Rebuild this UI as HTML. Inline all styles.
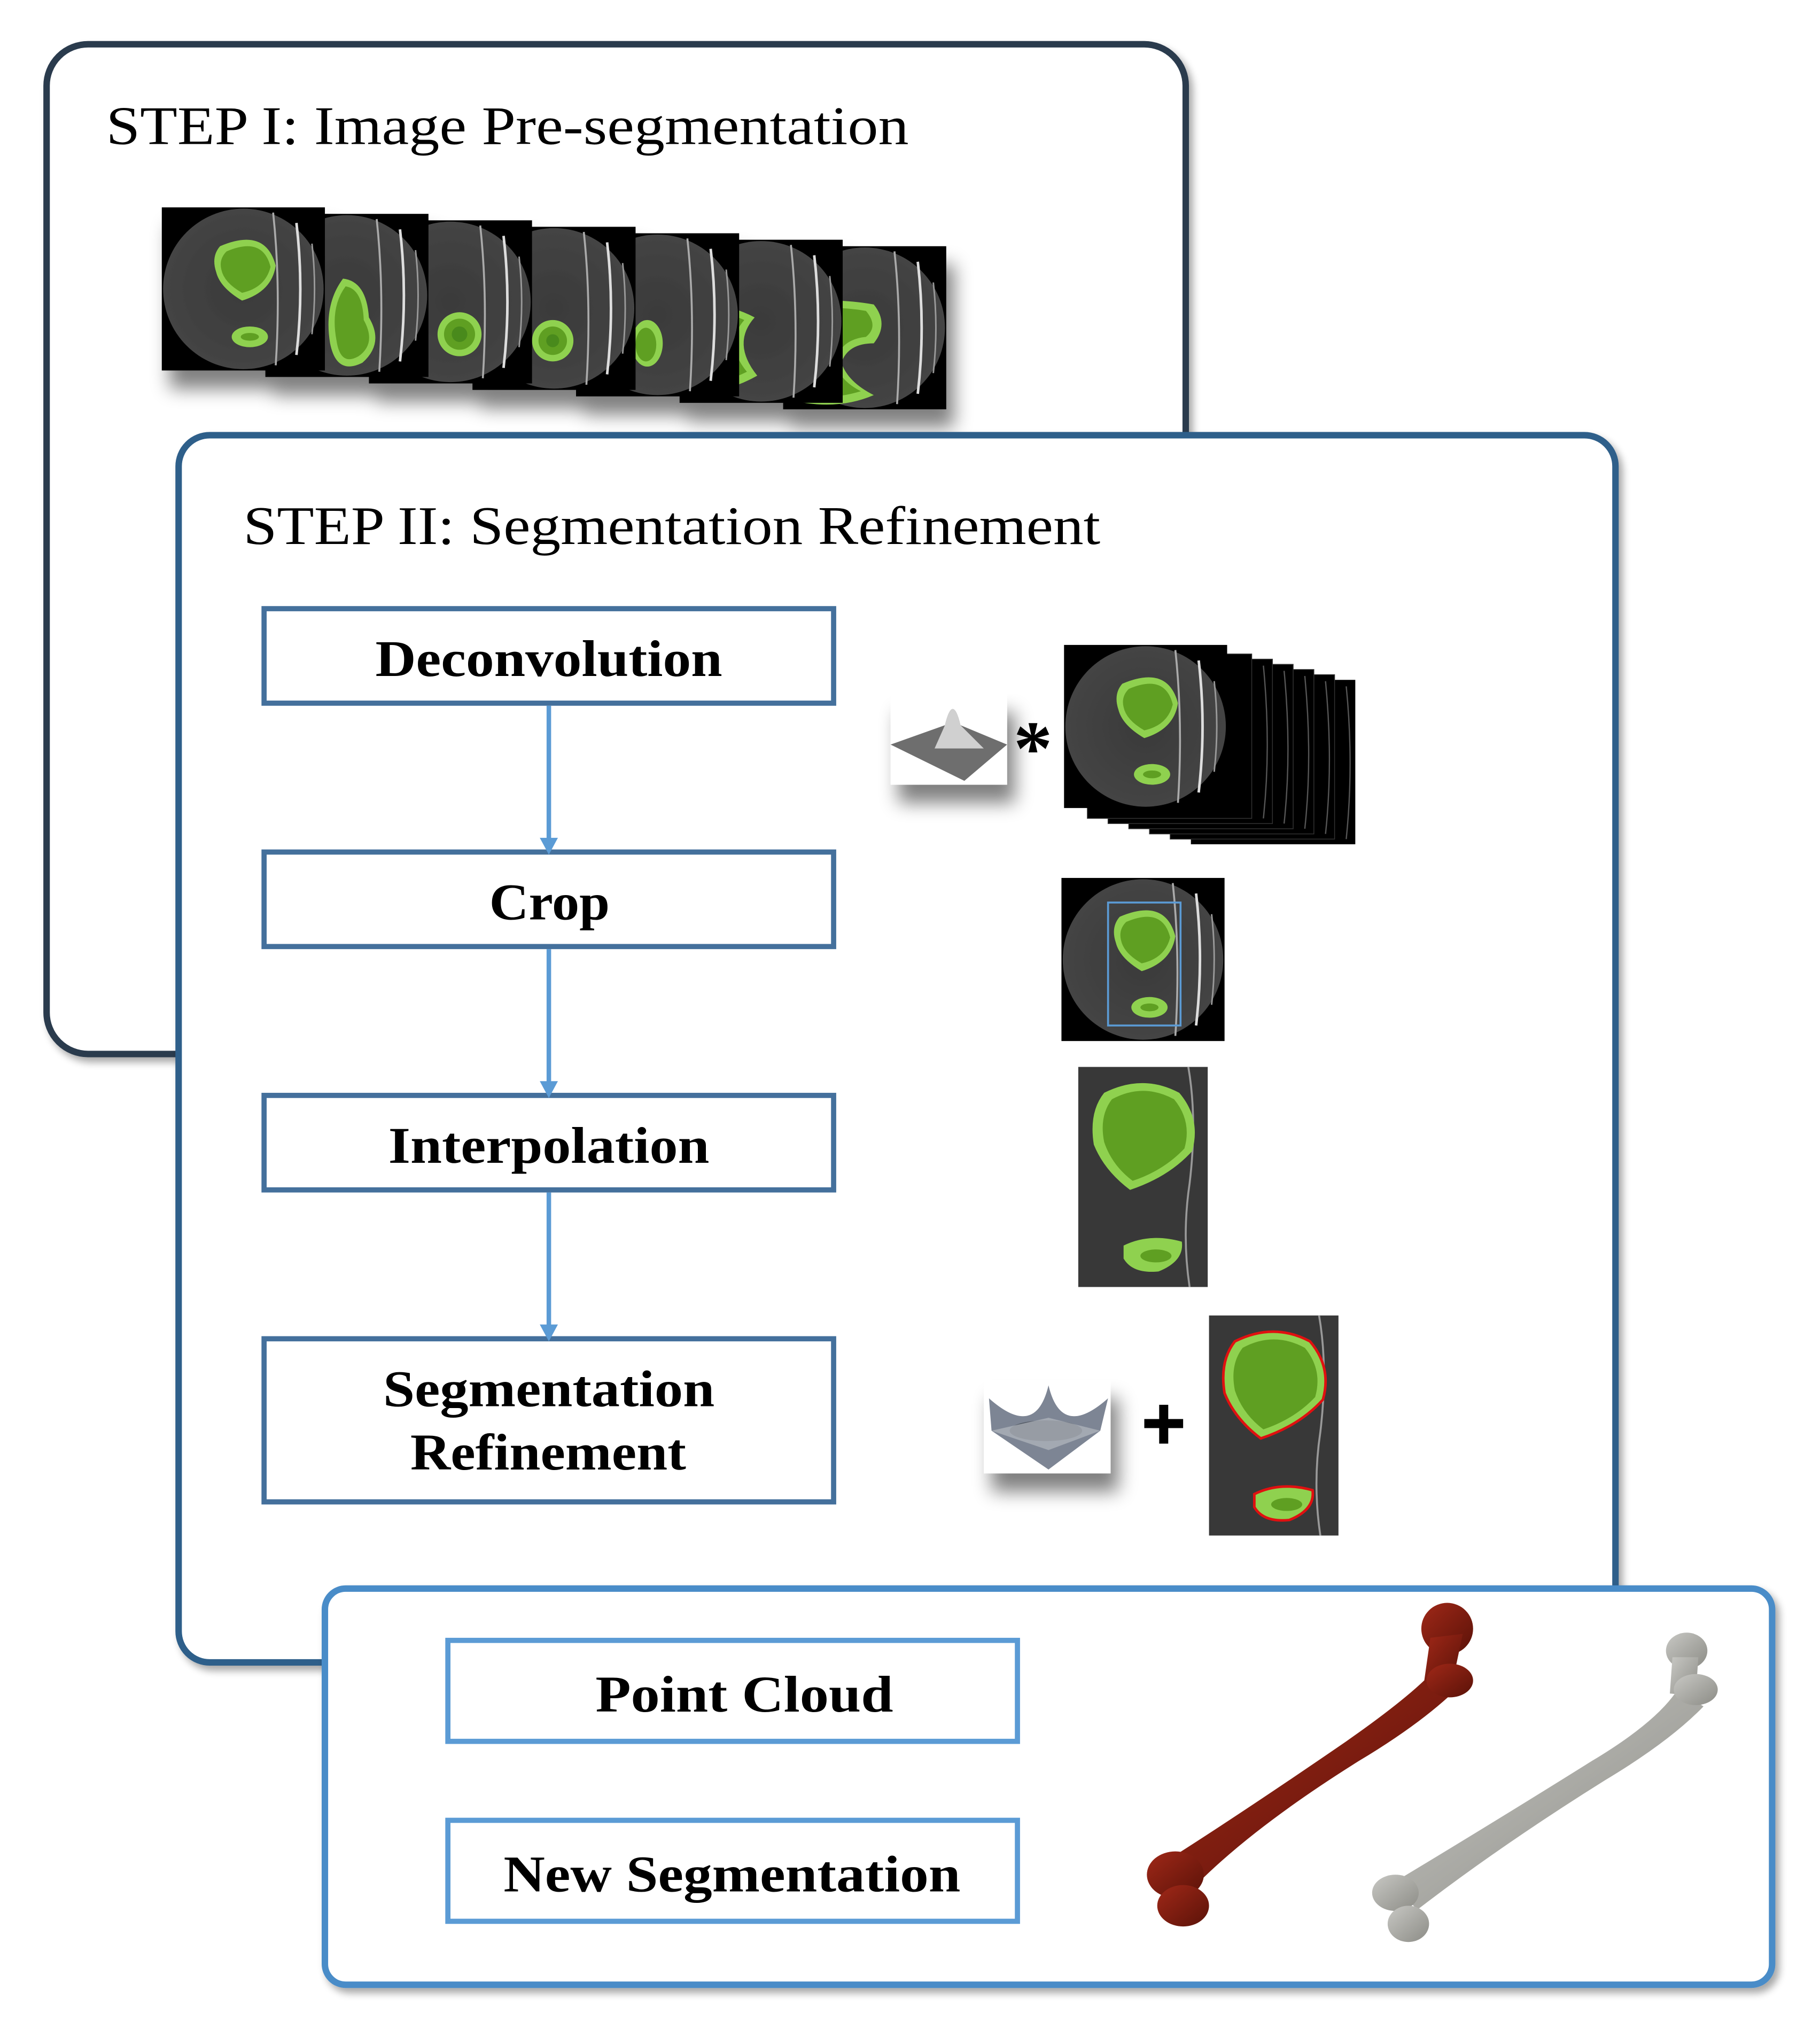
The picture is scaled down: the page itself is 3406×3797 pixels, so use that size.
<!DOCTYPE html>
<html><head><meta charset="utf-8">
<style>
html,body{margin:0;padding:0;background:#fff;}
svg{display:block;}
text{font-family:"Liberation Serif",serif;font-weight:bold;fill:#000;}
</style></head>
<body>
<svg width="3406" height="3797" viewBox="0 0 1406 1567" xmlns="http://www.w3.org/2000/svg">
<defs>
  <filter id="sh" x="-20%" y="-20%" width="150%" height="170%">
    <feGaussianBlur in="SourceAlpha" stdDeviation="7"/>
    <feOffset dx="6" dy="14"/>
    <feComponentTransfer><feFuncA type="linear" slope="0.5"/></feComponentTransfer>
    <feMerge><feMergeNode/><feMergeNode in="SourceGraphic"/></feMerge>
  </filter>
  <filter id="bsh" x="-5%" y="-5%" width="110%" height="110%">
    <feGaussianBlur in="SourceAlpha" stdDeviation="3"/>
    <feOffset dx="3" dy="4"/>
    <feComponentTransfer><feFuncA type="linear" slope="0.35"/></feComponentTransfer>
    <feMerge><feMergeNode/><feMergeNode in="SourceGraphic"/></feMerge>
  </filter>
  <radialGradient id="ctbg" cx="0.5" cy="0.5" r="0.5">
    <stop offset="0" stop-color="#3a3a3a"/><stop offset="1" stop-color="#444"/>
  </radialGradient>
  <linearGradient id="redb" x1="0" y1="0" x2="1" y2="1">
    <stop offset="0" stop-color="#a02818"/><stop offset="1" stop-color="#5a1208"/>
  </linearGradient>
  <linearGradient id="greyb" x1="0" y1="0" x2="1" y2="1">
    <stop offset="0" stop-color="#c8c8c4"/><stop offset="1" stop-color="#8c8c86"/>
  </linearGradient>
  <g id="ctbase">
    <rect x="0" y="0" width="126" height="126" fill="#000"/>
    <circle cx="63" cy="63" r="62" fill="url(#ctbg)"/>
    <path d="M86 4 Q92 60 88 122" stroke="#aaa" stroke-width="1.5" fill="none"/>
    <path d="M104 12 Q110 63 104 114" stroke="#ddd" stroke-width="2" fill="none"/>
    <path d="M116 28 Q120 63 116 98" stroke="#999" stroke-width="1.2" fill="none"/>
  </g>
</defs>

<!-- STEP I box -->
<rect x="36" y="34" width="880" height="780" rx="32" fill="#fff" stroke="#2b3a4d" stroke-width="5" filter="url(#bsh)"/>
<text x="82" y="111" font-size="42" style="font-weight:normal" textLength="620" lengthAdjust="spacingAndGlyphs">STEP I: Image Pre-segmentation</text>

<!-- strip of CT images -->
<g filter="url(#sh)">
  <g transform="translate(605,190)"><use href="#ctbase"/><path d="M2 48 Q30 38 70 45 Q82 60 70 75 Q50 75 45 90 Q50 105 70 115 Q40 128 2 118 Z" fill="#8fd14f"/><path d="M4 54 Q30 44 64 50 Q74 62 64 70 Q44 72 40 90 Q44 104 60 112 Q34 120 4 114 Z" fill="#5f9f22"/></g>
  <g transform="translate(525,185)"><use href="#ctbase"/><path d="M2 55 Q30 45 58 60 Q40 80 60 105 Q30 122 2 115 Z" fill="#8fd14f"/><path d="M4 60 Q28 52 50 62 Q34 80 52 102 Q28 114 4 110 Z" fill="#5f9f22"/></g>
  <g transform="translate(445,180)"><use href="#ctbase"/><ellipse cx="55" cy="85" rx="12" ry="18" fill="#8fd14f"/><ellipse cx="54" cy="86" rx="8" ry="13" fill="#5f9f22"/></g>
  <g transform="translate(365,175)"><use href="#ctbase"/><circle cx="62" cy="88" r="16" fill="#8fd14f"/><circle cx="62" cy="88" r="11" fill="#5f9f22"/><circle cx="62" cy="88" r="5" fill="#4a8a1a"/></g>
  <g transform="translate(285,170)"><use href="#ctbase"/><circle cx="70" cy="88" r="17" fill="#8fd14f"/><circle cx="70" cy="88" r="12" fill="#5f9f22"/><circle cx="70" cy="88" r="6" fill="#4a8a1a"/></g>
  <g transform="translate(205,165)"><use href="#ctbase"/><path d="M60 50 Q78 52 80 80 Q92 100 75 115 Q55 125 50 100 Q45 70 60 50Z" fill="#8fd14f"/><path d="M62 56 Q75 58 76 82 Q86 100 72 110 Q58 118 55 98 Q50 72 62 56Z" fill="#5f9f22"/></g>
  <g transform="translate(125,160)"><use href="#ctbase"/><path d="M45 30 Q80 15 88 45 Q85 65 62 72 Q45 62 42 50 Q38 38 45 30Z" fill="#8fd14f"/><path d="M50 34 Q78 22 84 46 Q80 62 62 66 Q48 58 46 48 Q44 40 50 34Z" fill="#5f9f22"/><ellipse cx="68" cy="100" rx="14" ry="8" fill="#8fd14f"/><ellipse cx="68" cy="100" rx="7" ry="3" fill="#5f9f22"/></g>
</g>

<!-- STEP II box -->
<rect x="138" y="336" width="1110" height="948" rx="24" fill="#fff" stroke="#2e5f8a" stroke-width="5" filter="url(#bsh)"/>
<text x="188" y="420" font-size="42" style="font-weight:normal" textLength="662" lengthAdjust="spacingAndGlyphs">STEP II: Segmentation Refinement</text>

<!-- flow boxes -->
<g fill="#fff" stroke="#44709c" stroke-width="4">
  <rect x="204" y="470" width="440" height="73"/>
  <rect x="204" y="658" width="440" height="73"/>
  <rect x="204" y="846" width="440" height="73"/>
  <rect x="204" y="1034" width="440" height="126"/>
</g>
<g stroke="#5b9bd5" stroke-width="3.5">
  <line x1="424" y1="545" x2="424" y2="650"/>
  <line x1="424" y1="733" x2="424" y2="838"/>
  <line x1="424" y1="921" x2="424" y2="1026"/>
</g>
<g fill="#5b9bd5">
  <path d="M417 647 L431 647 L424 660 Z"/>
  <path d="M417 835 L431 835 L424 848 Z"/>
  <path d="M417 1023 L431 1023 L424 1036 Z"/>
</g>
<text x="290" y="522" font-size="40" textLength="268" lengthAdjust="spacingAndGlyphs">Deconvolution</text>
<text x="378" y="710" font-size="40" textLength="93" lengthAdjust="spacingAndGlyphs">Crop</text>
<text x="300" y="898" font-size="40" textLength="248" lengthAdjust="spacingAndGlyphs">Interpolation</text>
<text x="296" y="1086" font-size="40" textLength="256" lengthAdjust="spacingAndGlyphs">Segmentation</text>
<text x="317" y="1135" font-size="40" textLength="213" lengthAdjust="spacingAndGlyphs">Refinement</text>

<!-- gaussian -->
<g filter="url(#sh)">
  <rect x="688" y="536" width="90" height="70" fill="#fff"/>
  <path d="M688 575 L730 560 Q736 535 742 560 L778 575 L745 603 Z" fill="#6e6e6e"/>
  <path d="M730 560 Q736 535 742 560 L760 578 L722 578 Z" fill="#d0d0d0"/>
</g>
<text x="783" y="598" font-size="60">*</text>

<!-- deconvolution stack -->
<g>
  <rect x="920" y="525" width="127" height="127" fill="#000"/>
  <rect x="904" y="521" width="127" height="127" fill="#000" stroke="#333" stroke-width="0.6"/>
  <rect x="888" y="517" width="127" height="127" fill="#000" stroke="#333" stroke-width="0.6"/>
  <rect x="872" y="513" width="127" height="127" fill="#000" stroke="#333" stroke-width="0.6"/>
  <rect x="856" y="509" width="127" height="127" fill="#000" stroke="#333" stroke-width="0.6"/>
  <rect x="840" y="505" width="127" height="127" fill="#000" stroke="#333" stroke-width="0.6"/>
  <g stroke="#555" stroke-width="1" fill="none">
    <path d="M1040 530 Q1046 590 1040 648"/><path d="M1024 526 Q1030 588 1024 644"/><path d="M1008 522 Q1014 585 1008 640"/><path d="M992 518 Q998 580 992 636"/><path d="M976 514 Q982 576 976 632"/>
  </g>
  <g transform="translate(822,498)"><use href="#ctbase"/><path d="M45 30 Q80 15 88 45 Q85 65 62 72 Q45 62 42 50 Q38 38 45 30Z" fill="#8fd14f"/><path d="M50 34 Q78 22 84 46 Q80 62 62 66 Q48 58 46 48 Q44 40 50 34Z" fill="#5f9f22"/><ellipse cx="68" cy="100" rx="14" ry="8" fill="#8fd14f"/><ellipse cx="68" cy="100" rx="7" ry="3" fill="#5f9f22"/></g>
</g>

<!-- crop image -->
<g transform="translate(820,678)"><use href="#ctbase"/><path d="M45 30 Q80 15 88 45 Q85 65 62 72 Q45 62 42 50 Q38 38 45 30Z" fill="#8fd14f"/><path d="M50 34 Q78 22 84 46 Q80 62 62 66 Q48 58 46 48 Q44 40 50 34Z" fill="#5f9f22"/><ellipse cx="68" cy="100" rx="14" ry="8" fill="#8fd14f"/><ellipse cx="68" cy="100" rx="7" ry="3" fill="#5f9f22"/>
<rect x="36" y="19" width="56" height="95" fill="none" stroke="#5b9bd5" stroke-width="1.5"/></g>

<!-- interpolation image -->
<g transform="translate(833,824)">
  <rect width="100" height="170" fill="#383838"/>
  <path d="M85 0 Q92 40 86 90 Q80 130 86 170" stroke="#999" stroke-width="1.5" fill="none"/>
  <path d="M20 20 Q50 5 78 20 Q95 40 88 65 Q70 85 40 95 Q20 80 12 60 Q8 35 20 20Z" fill="#8fd14f"/>
  <path d="M26 25 Q50 12 74 25 Q88 42 82 63 Q66 80 42 88 Q26 76 20 58 Q16 38 26 25Z" fill="#5f9f22"/>
  <path d="M35 138 Q55 128 80 135 Q82 150 62 158 Q42 160 35 148Z" fill="#8fd14f"/>
  <ellipse cx="60" cy="146" rx="12" ry="5" fill="#5f9f22"/>
</g>

<!-- mexican hat -->
<g filter="url(#sh)">
  <rect x="760" y="1066" width="98" height="72" fill="#fff"/>
  <path d="M764 1080 Q800 1112 810 1070 Q820 1112 856 1080 L850 1105 L810 1135 L766 1105 Z" fill="#7d8594"/>
  <ellipse cx="808" cy="1105" rx="28" ry="8" fill="#555c66"/>
  <path d="M766 1105 L810 1095 L850 1105 L810 1120 Z" fill="#b4b8bf" opacity="0.7"/>
</g>
<g fill="#000">
  <rect x="884" y="1096" width="30" height="7"/>
  <rect x="895.5" y="1085" width="7" height="30"/>
</g>

<!-- refinement image -->
<g transform="translate(934,1016)">
  <rect width="100" height="170" fill="#383838"/>
  <path d="M85 0 Q92 40 86 90 Q80 130 86 170" stroke="#999" stroke-width="1.5" fill="none"/>
  <path d="M20 20 Q50 5 78 20 Q95 40 88 65 Q70 85 40 95 Q20 80 12 60 Q8 35 20 20Z" fill="#8fd14f" stroke="#e01010" stroke-width="2"/>
  <path d="M26 25 Q50 12 74 25 Q88 42 82 63 Q66 80 42 88 Q26 76 20 58 Q16 38 26 25Z" fill="#5f9f22"/>
  <path d="M35 138 Q55 128 80 135 Q82 150 62 158 Q42 160 35 148Z" fill="#8fd14f" stroke="#e01010" stroke-width="2"/>
  <ellipse cx="60" cy="146" rx="12" ry="5" fill="#5f9f22"/>
</g>

<!-- STEP III box -->
<rect x="251" y="1227" width="1118" height="306" rx="16" fill="#fff" stroke="#4a8cc8" stroke-width="5" filter="url(#bsh)"/>
<g fill="#fff" stroke="#5b9bd5" stroke-width="4">
  <rect x="346" y="1267" width="440" height="78"/>
  <rect x="346" y="1406" width="440" height="78"/>
</g>
<text x="460" y="1322" font-size="40" textLength="230" lengthAdjust="spacingAndGlyphs">Point Cloud</text>
<text x="389" y="1461" font-size="40" textLength="353" lengthAdjust="spacingAndGlyphs">New Segmentation</text>

<!-- red bone -->
<g fill="url(#redb)">
  <path d="M900 1438 Q960 1400 1040 1345 Q1090 1310 1108 1290 L1128 1302 Q1100 1330 1050 1360 Q970 1410 925 1455 Z"/>
  <circle cx="1118" cy="1258" r="20"/>
  <path d="M1105 1265 L1130 1262 L1122 1300 L1100 1300Z"/>
  <ellipse cx="1120" cy="1298" rx="18" ry="13"/>
  <ellipse cx="908" cy="1448" rx="22" ry="18"/>
  <ellipse cx="914" cy="1472" rx="20" ry="16"/>
</g>
<!-- grey bone -->
<g fill="url(#greyb)">
  <path d="M1075 1455 Q1150 1410 1230 1360 Q1280 1330 1296 1305 L1316 1318 Q1290 1345 1240 1375 Q1160 1425 1095 1475 Z"/>
  <ellipse cx="1303" cy="1275" rx="16" ry="14"/>
  <path d="M1292 1280 L1312 1280 L1310 1310 L1290 1308Z"/>
  <ellipse cx="1310" cy="1305" rx="17" ry="12"/>
  <ellipse cx="1078" cy="1462" rx="18" ry="14"/>
  <ellipse cx="1088" cy="1486" rx="16" ry="14"/>
</g>
</svg>
</body></html>
